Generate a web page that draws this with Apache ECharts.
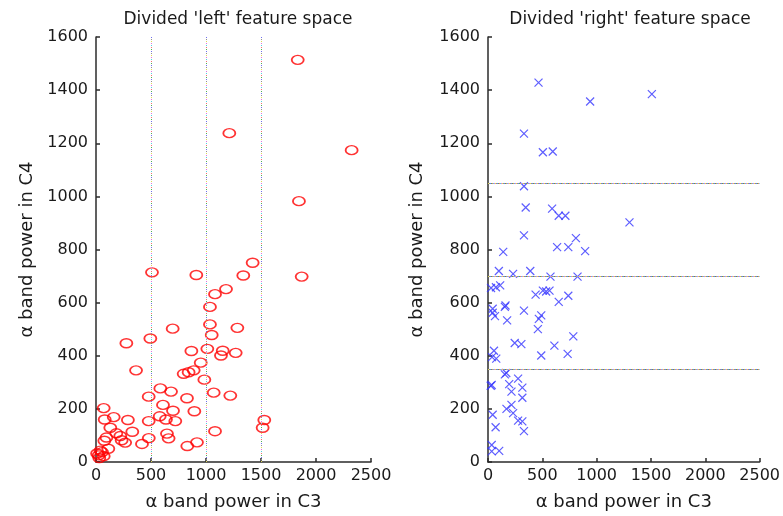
<!DOCTYPE html>
<html>
<head>
<meta charset="utf-8">
<script src="https://cdn.jsdelivr.net/npm/echarts@6/dist/echarts.min.js"></script>
<style>html,body{margin:0;padding:0;background:#fff}#c{width:783px;height:516px}</style>
</head>
<body>
<div id="c"></div>
<script>
// ---- data ----
var titles = ["Divided 'left' feature space", "Divided 'right' feature space"];
var xName = "\u03b1 band power in C3";
var yName = "\u03b1 band power in C4";

var leftC3 = [1834,1212,2324,1845,509,912,1424,1339,1870,1182,1082,1036,1036,1285,697,1052,494,276,
  1012,867,1152,1270,1136,952,364,888,842,797,985,585,682,1070,1221,479,827,609,70,700,894,
  161,79,290,479,579,636,721,1530,1515,130,330,185,1082,221,645,95,480,660,76,265,418,918,830,
  112,40,55,24,10,70,30,233];
var leftC4 = [1514,1238,1174,982,714,704,750,702,698,651,632,584,518,505,502,478,465,447,
  426,418,419,411,401,374,345,345,338,332,310,277,265,261,250,246,240,215,203,193,191,
  169,160,158,154,172,160,154,158,129,129,114,108,116,98,107,92,90,89,80,73,68,74,60,
  50,43,37,25,32,22,15,82];

var rightC3 = [465,940,1508,331,505,596,331,347,590,651,712,1302,331,809,636,739,894,140,
  100,231,389,575,824,28,73,112,161,438,505,535,566,651,739,
  43,155,64,43,176,331,490,468,459,246,307,611,785,490,733,55,37,76,
  155,168,277,34,25,195,316,216,316,216,170,231,43,277,316,70,331,34,34,103];
var rightC4 = [1428,1357,1385,1236,1166,1169,1038,958,954,927,927,902,853,843,809,809,794,791,
  719,708,719,698,698,655,658,665,589,630,645,642,645,603,626,
  577,584,549,562,533,570,552,539,500,448,444,438,473,401,407,419,395,389,
  330,335,314,290,287,293,280,265,242,215,200,184,178,156,153,131,116,64,40,42];

var leftDividers = [500, 1000, 1500];   // C3 thresholds (left plot)
var rightDividers = [350, 700, 1050];   // C4 thresholds (right plot)
var xMax = 2500, yMax = 1600;

// ---- chart ----
var chart = echarts.init(document.getElementById('c'), null, {renderer: 'canvas'});
var txt = '#1a1a1a', axisCol = '#2b2b2b';
var font = 'DejaVu Sans';

function pairs(xs, ys) { return xs.map(function (v, i) { return [v, ys[i]]; }); }
function plain(v) { return String(v); }

function mkX(idx) {
  return {
    gridIndex: idx, type: 'value', min: 0, max: xMax, interval: 500,
    name: xName, nameLocation: 'middle', nameGap: 31,
    nameTextStyle: {fontFamily: font, fontSize: 18, color: txt},
    axisLine: {show: true, onZero: false, lineStyle: {color: axisCol, width: 1.5}},
    axisTick: {show: true, inside: true, length: 4, lineStyle: {color: axisCol, width: 1.5}},
    axisLabel: {fontFamily: font, fontSize: 16, color: txt, margin: 6, formatter: plain},
    splitLine: {show: false}
  };
}
function mkY(idx, gap) {
  return {
    gridIndex: idx, type: 'value', min: 0, max: yMax, interval: 200,
    name: yName, nameLocation: 'middle', nameGap: gap, nameRotate: 90,
    nameTextStyle: {fontFamily: font, fontSize: 18, color: txt},
    axisLine: {show: true, onZero: false, lineStyle: {color: axisCol, width: 1.5}},
    axisTick: {show: true, inside: true, length: 4, lineStyle: {color: axisCol, width: 1.5}},
    axisLabel: {fontFamily: font, fontSize: 16, color: txt, margin: 8, formatter: plain},
    splitLine: {show: false}
  };
}

var dotColors = ['#e0d850', '#e070e0', '#50d0e0', '#f07070', '#50b050', '#7070f0', '#909090'];
function dividerSeries(idx, vals, isVertical) {
  var n = dotColors.length;
  return dotColors.map(function (c, k) {
    var dash = isVertical ? [1, 2 * n - 1] : [1, n - 1];
    var off = isVertical ? 2 * k : k;
    return {
      type: 'line', xAxisIndex: idx, yAxisIndex: idx, data: [], silent: true,
      markLine: {
        silent: true, symbol: 'none', animation: false,
        label: {show: false},
        lineStyle: {color: c, width: 1, type: dash, dashOffset: off, opacity: 1},
        data: vals.map(function (v) { return isVertical ? {xAxis: v} : {yAxis: v}; })
      }
    };
  });
}

var series = [];
series = series.concat(dividerSeries(0, leftDividers, true));
series = series.concat(dividerSeries(1, rightDividers, false));
series.push({
  type: 'scatter', xAxisIndex: 0, yAxisIndex: 0,
  data: pairs(leftC3, leftC4),
  symbol: 'circle', symbolSize: [12, 9],
  itemStyle: {color: 'rgba(0,0,0,0)', borderColor: '#ff0000', borderWidth: 1.6},
  animation: false
});
series.push({
  type: 'scatter', xAxisIndex: 1, yAxisIndex: 1,
  data: pairs(rightC3, rightC4),
  symbol: 'path://M0,0L10,10M10,0L0,10', symbolSize: 8,
  itemStyle: {color: 'rgba(0,0,0,0)', borderColor: '#3535ff', borderWidth: 1.2},
  animation: false
});

chart.setOption({
  animation: false,
  backgroundColor: '#ffffff',
  title: [
    {text: titles[0], left: 233, top: 6, textAlign: 'center',
     textStyle: {fontFamily: font, fontSize: 17, fontWeight: 'normal', color: txt}},
    {text: titles[1], left: 625, top: 6, textAlign: 'center',
     textStyle: {fontFamily: font, fontSize: 17, fontWeight: 'normal', color: txt}}
  ],
  grid: [
    {left: 96, top: 37, width: 275, height: 431},
    {left: 488, top: 37, width: 274, height: 431}
  ],
  xAxis: [mkX(0), mkX(1)],
  yAxis: [mkY(0, 60), mkY(1, 62)],
  series: series
});
</script>
</body>
</html>
